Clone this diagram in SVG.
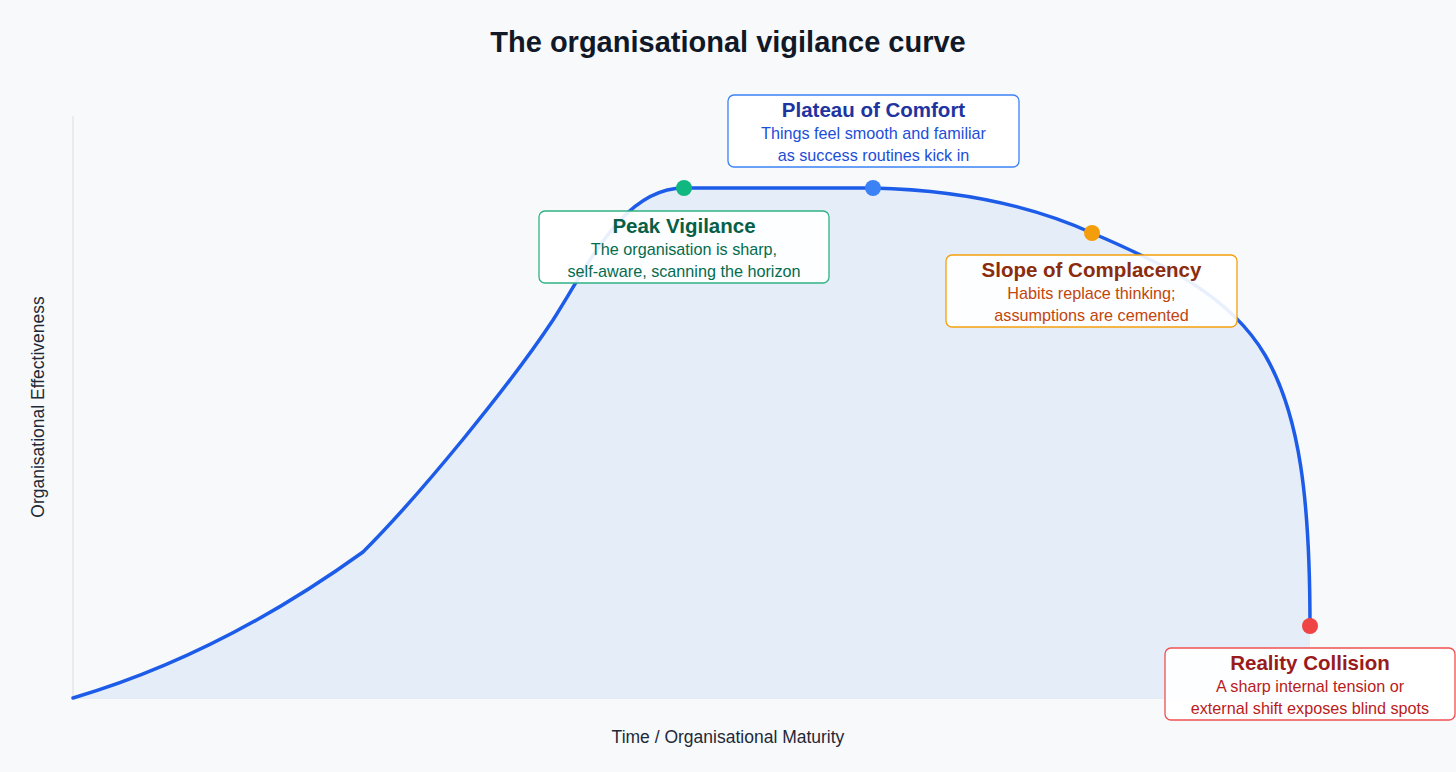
<svg xmlns="http://www.w3.org/2000/svg" width="1456" height="772" viewBox="0 0 1456 772">
<style>
text{font-family:"Liberation Sans",Arial,sans-serif;text-anchor:middle}
.ttl{font-size:29px;font-weight:bold;fill:#111827}
.axl{font-size:17.5px;fill:#1f2937}
.box{fill:#ffffff;fill-opacity:0.9;stroke-width:1.3}
.bt{font-size:20.5px;font-weight:bold}
.bb{font-size:16.2px}
.curve{fill:none;stroke:#1d5ce8;stroke-width:3.5;stroke-linejoin:round;stroke-linecap:round}
</style>
<rect width="1456" height="772" fill="#f7f9fb"/>
<text class="ttl" x="728" y="52">The organisational vigilance curve</text>
<g id="axes">
<line x1="73" y1="116" x2="73" y2="698" stroke="#e3e7ec" stroke-width="1.5"/>
<line x1="73" y1="698" x2="1383" y2="698" stroke="#dfe6ef" stroke-width="1.5"/>
<text class="axl" x="728" y="743">Time / Organisational Maturity</text>
<text class="axl" transform="translate(44,407) rotate(-90)">Organisational Effectiveness</text>
</g>
<g id="connectors">
<path d="M73,698 Q220,655 363,552 C420,495 510,385 553,320 C592,258 625,188 684,188 L873,188 C960,190 1030,205 1092,233 C1160,262 1230,295 1265,355 C1300,415 1310,500 1310,626 L1310,698 Z" fill="#e5edf8"/>
<path class="curve" d="M73,698 Q220,655 363,552 C420,495 510,385 553,320 C592,258 625,188 684,188 L873,188 C960,190 1030,205 1092,233 C1160,262 1230,295 1265,355 C1300,415 1310,500 1310,626"/>
</g>
<g id="dots">
<circle cx="684" cy="188" r="8" fill="#10b77f"/>
<circle cx="873" cy="188" r="8" fill="#3b82f6"/>
<circle cx="1092" cy="233" r="8" fill="#f59e0b"/>
<circle cx="1310" cy="626" r="8" fill="#ef4444"/>
</g>
<g id="plateau">
<rect class="box" x="728" y="95" width="291" height="72" rx="6" stroke="#3b82f6"/>
<text class="bt" x="873.5" y="117" fill="#1e34a0">Plateau of Comfort</text>
<text class="bb" x="873.5" y="139" fill="#1d4ed8">Things feel smooth and familiar</text>
<text class="bb" x="873.5" y="161" fill="#1d4ed8">as success routines kick in</text>
</g>
<g id="peak">
<rect class="box" x="539" y="211" width="290" height="72" rx="6" stroke="#2fb382"/>
<text class="bt" x="684" y="233" fill="#065f46">Peak Vigilance</text>
<text class="bb" x="684" y="255" fill="#046c4e">The organisation is sharp,</text>
<text class="bb" x="684" y="277" fill="#046c4e">self-aware, scanning the horizon</text>
</g>
<g id="slope">
<rect class="box" x="946" y="255" width="291" height="72" rx="6" stroke="#f5a00b"/>
<text class="bt" x="1091.5" y="277" fill="#8a2c0d">Slope of Complacency</text>
<text class="bb" x="1091.5" y="299" fill="#c2460c">Habits replace thinking;</text>
<text class="bb" x="1091.5" y="321" fill="#c2460c">assumptions are cemented</text>
</g>
<g id="collision">
<rect class="box" x="1165" y="648" width="290" height="72" rx="6" stroke="#ef5050"/>
<text class="bt" x="1310" y="670" fill="#991b1b">Reality Collision</text>
<text class="bb" x="1310" y="692" fill="#b91c1c">A sharp internal tension or</text>
<text class="bb" x="1310" y="714" fill="#b91c1c">external shift exposes blind spots</text>
</g>
</svg>
